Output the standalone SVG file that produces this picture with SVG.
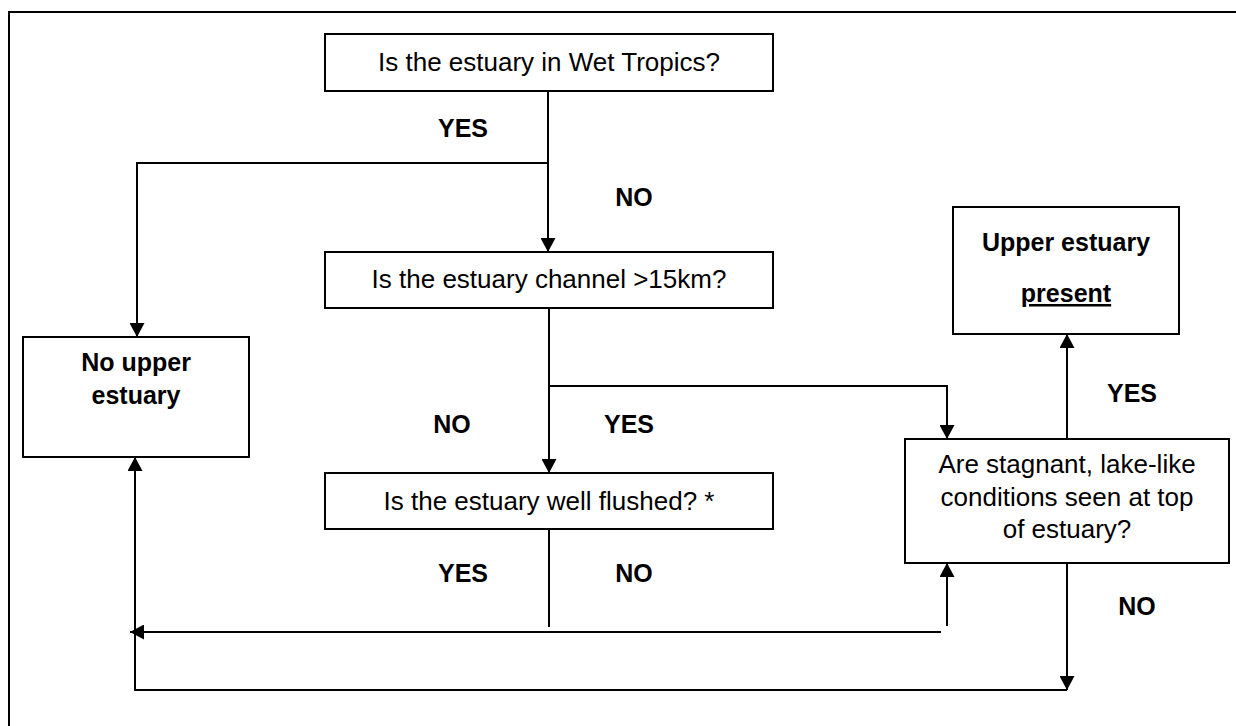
<svg xmlns="http://www.w3.org/2000/svg" width="1236" height="726" viewBox="0 0 1236 726">
  <style>
    .box { fill: #ffffff; stroke: #000000; stroke-width: 2; }
    .q { font-family: "Liberation Sans", Arial, sans-serif; font-size: 26px; fill: #000000; text-anchor: middle; }
    .b { font-family: "Liberation Sans", Arial, sans-serif; font-size: 25px; font-weight: bold; fill: #000000; text-anchor: middle; }
    .wire { fill: none; stroke: #000000; stroke-width: 2; }
  </style>
  <defs>
    <marker id="arrow" viewBox="0 0 14 15" refX="14" refY="7.5" markerWidth="14" markerHeight="15" markerUnits="userSpaceOnUse" orient="auto">
      <path d="M0,0 L14,7.5 L0,15 Z" fill="#000000"/>
    </marker>
  </defs>

  <rect width="1236" height="726" fill="#ffffff"/>
  <!-- page frame -->
  <path d="M9,726 L9,12 L1236,12" class="wire"/>

  <g id="connectors">
    <path class="wire" d="M548,91 L548,252" marker-end="url(#arrow)"/>
    <path class="wire" d="M548,163 L137,163 L137,337" marker-end="url(#arrow)"/>
    <path class="wire" d="M549,308 L549,473" marker-end="url(#arrow)"/>
    <path class="wire" d="M549,386 L947,386 L947,439" marker-end="url(#arrow)"/>
    <path class="wire" d="M549,529 L549,627"/>
    <path class="wire" d="M941,632 L130,632" marker-end="url(#arrow)"/>
    <path class="wire" d="M947,626 L947,563" marker-end="url(#arrow)"/>
    <path class="wire" d="M1067,563 L1067,690" marker-end="url(#arrow)"/>
    <path class="wire" d="M1067,690 L135,690 L135,457" marker-end="url(#arrow)"/>
    <path class="wire" d="M1067,439 L1067,334" marker-end="url(#arrow)"/>
  </g>

  <g id="labels">
    <text class="b" x="463" y="137">YES</text>
    <text class="b" x="634" y="206">NO</text>
    <text class="b" x="452" y="433">NO</text>
    <text class="b" x="629" y="433">YES</text>
    <text class="b" x="463" y="582">YES</text>
    <text class="b" x="634" y="582">NO</text>
    <text class="b" x="1132" y="402">YES</text>
    <text class="b" x="1137" y="615">NO</text>
  </g>

  <g id="q-wet-tropics">
    <rect class="box" x="325" y="34" width="448" height="57"/>
    <text class="q" x="549" y="71">Is the estuary in Wet Tropics?</text>
  </g>

  <g id="q-channel">
    <rect class="box" x="325" y="252" width="448" height="56"/>
    <text class="q" x="549" y="288">Is the estuary channel &gt;15km?</text>
  </g>

  <g id="q-flushed">
    <rect class="box" x="325" y="473" width="448" height="56"/>
    <text class="q" x="549" y="510">Is the estuary well flushed? *</text>
  </g>

  <g id="no-upper">
    <rect class="box" x="23" y="337" width="226" height="120"/>
    <text class="b" x="136" y="371">No upper</text>
    <text class="b" x="136" y="404">estuary</text>
  </g>

  <g id="upper-present">
    <rect class="box" x="953" y="207" width="226" height="127"/>
    <text class="b" x="1066" y="251">Upper estuary</text>
    <text class="b" x="1066" y="302" text-decoration="underline">present</text>
  </g>

  <g id="q-stagnant">
    <rect class="box" x="905" y="439" width="324" height="124"/>
    <text class="q" x="1067" y="473">Are stagnant, lake-like</text>
    <text class="q" x="1067" y="506">conditions seen at top</text>
    <text class="q" x="1067" y="538">of estuary?</text>
  </g>
</svg>
